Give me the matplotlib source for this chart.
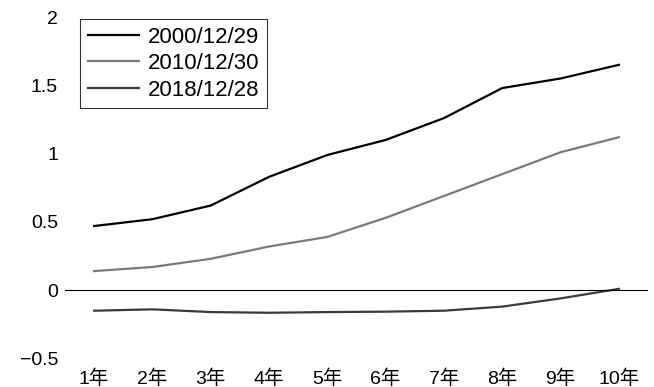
import numpy as np
import matplotlib.pyplot as plt

plt.rcParams['font.family'] = ['Liberation Sans', 'Noto Sans CJK JP', 'DejaVu Sans']

years = ["1年", "2年", "3年", "4年", "5年", "6年", "7年", "8年", "9年", "10年"]
labels = ["2000/12/29", "2010/12/30", "2018/12/28"]
y2000 = [0.47, 0.52, 0.62, 0.83, 0.99, 1.10, 1.26, 1.48, 1.55, 1.65]
y2010 = [0.14, 0.17, 0.23, 0.32, 0.39, 0.53, 0.69, 0.85, 1.01, 1.12]
y2018 = [-0.15, -0.14, -0.16, -0.165, -0.16, -0.157, -0.15, -0.12, -0.06, 0.01]
colors = ["#000000", "#7a7a7a", "#3a3a3a"]

fig = plt.figure(figsize=(6.54, 3.87), dpi=100)
ax = fig.add_axes([0.0994, 0.0736, 0.8914, 0.8824])

x = np.arange(len(years))
for ys, lab, c in zip([y2000, y2010, y2018], labels, colors):
    ax.plot(x, ys, color=c, lw=1.6, label=lab)

ax.axhline(0, color="black", lw=0.8)
ax.set_xlim(-0.5, 9.5)
ax.set_ylim(-0.5, 2)
ax.set_yticks([-0.5, 0, 0.5, 1, 1.5, 2])
ax.set_yticklabels(["\u22120.5", "0", "0.5", "1", "1.5", "2"])
ax.set_xticks(x)
ax.set_xticklabels(years)
for s in ax.spines.values():
    s.set_visible(False)
ax.tick_params(axis="both", length=0, labelsize=14)
ax.tick_params(axis="x", pad=8)
ax.tick_params(axis="y", pad=5)

leg = ax.legend(loc="upper left", bbox_to_anchor=(0.0257, 0.994), borderaxespad=0,
                frameon=True, fancybox=False, edgecolor="black", fontsize=16,
                handlelength=2.3, borderpad=0.35, labelspacing=0.24,
                handletextpad=0.4)
leg.get_frame().set_linewidth(0.8)

fig.savefig("out.png", dpi=100)
